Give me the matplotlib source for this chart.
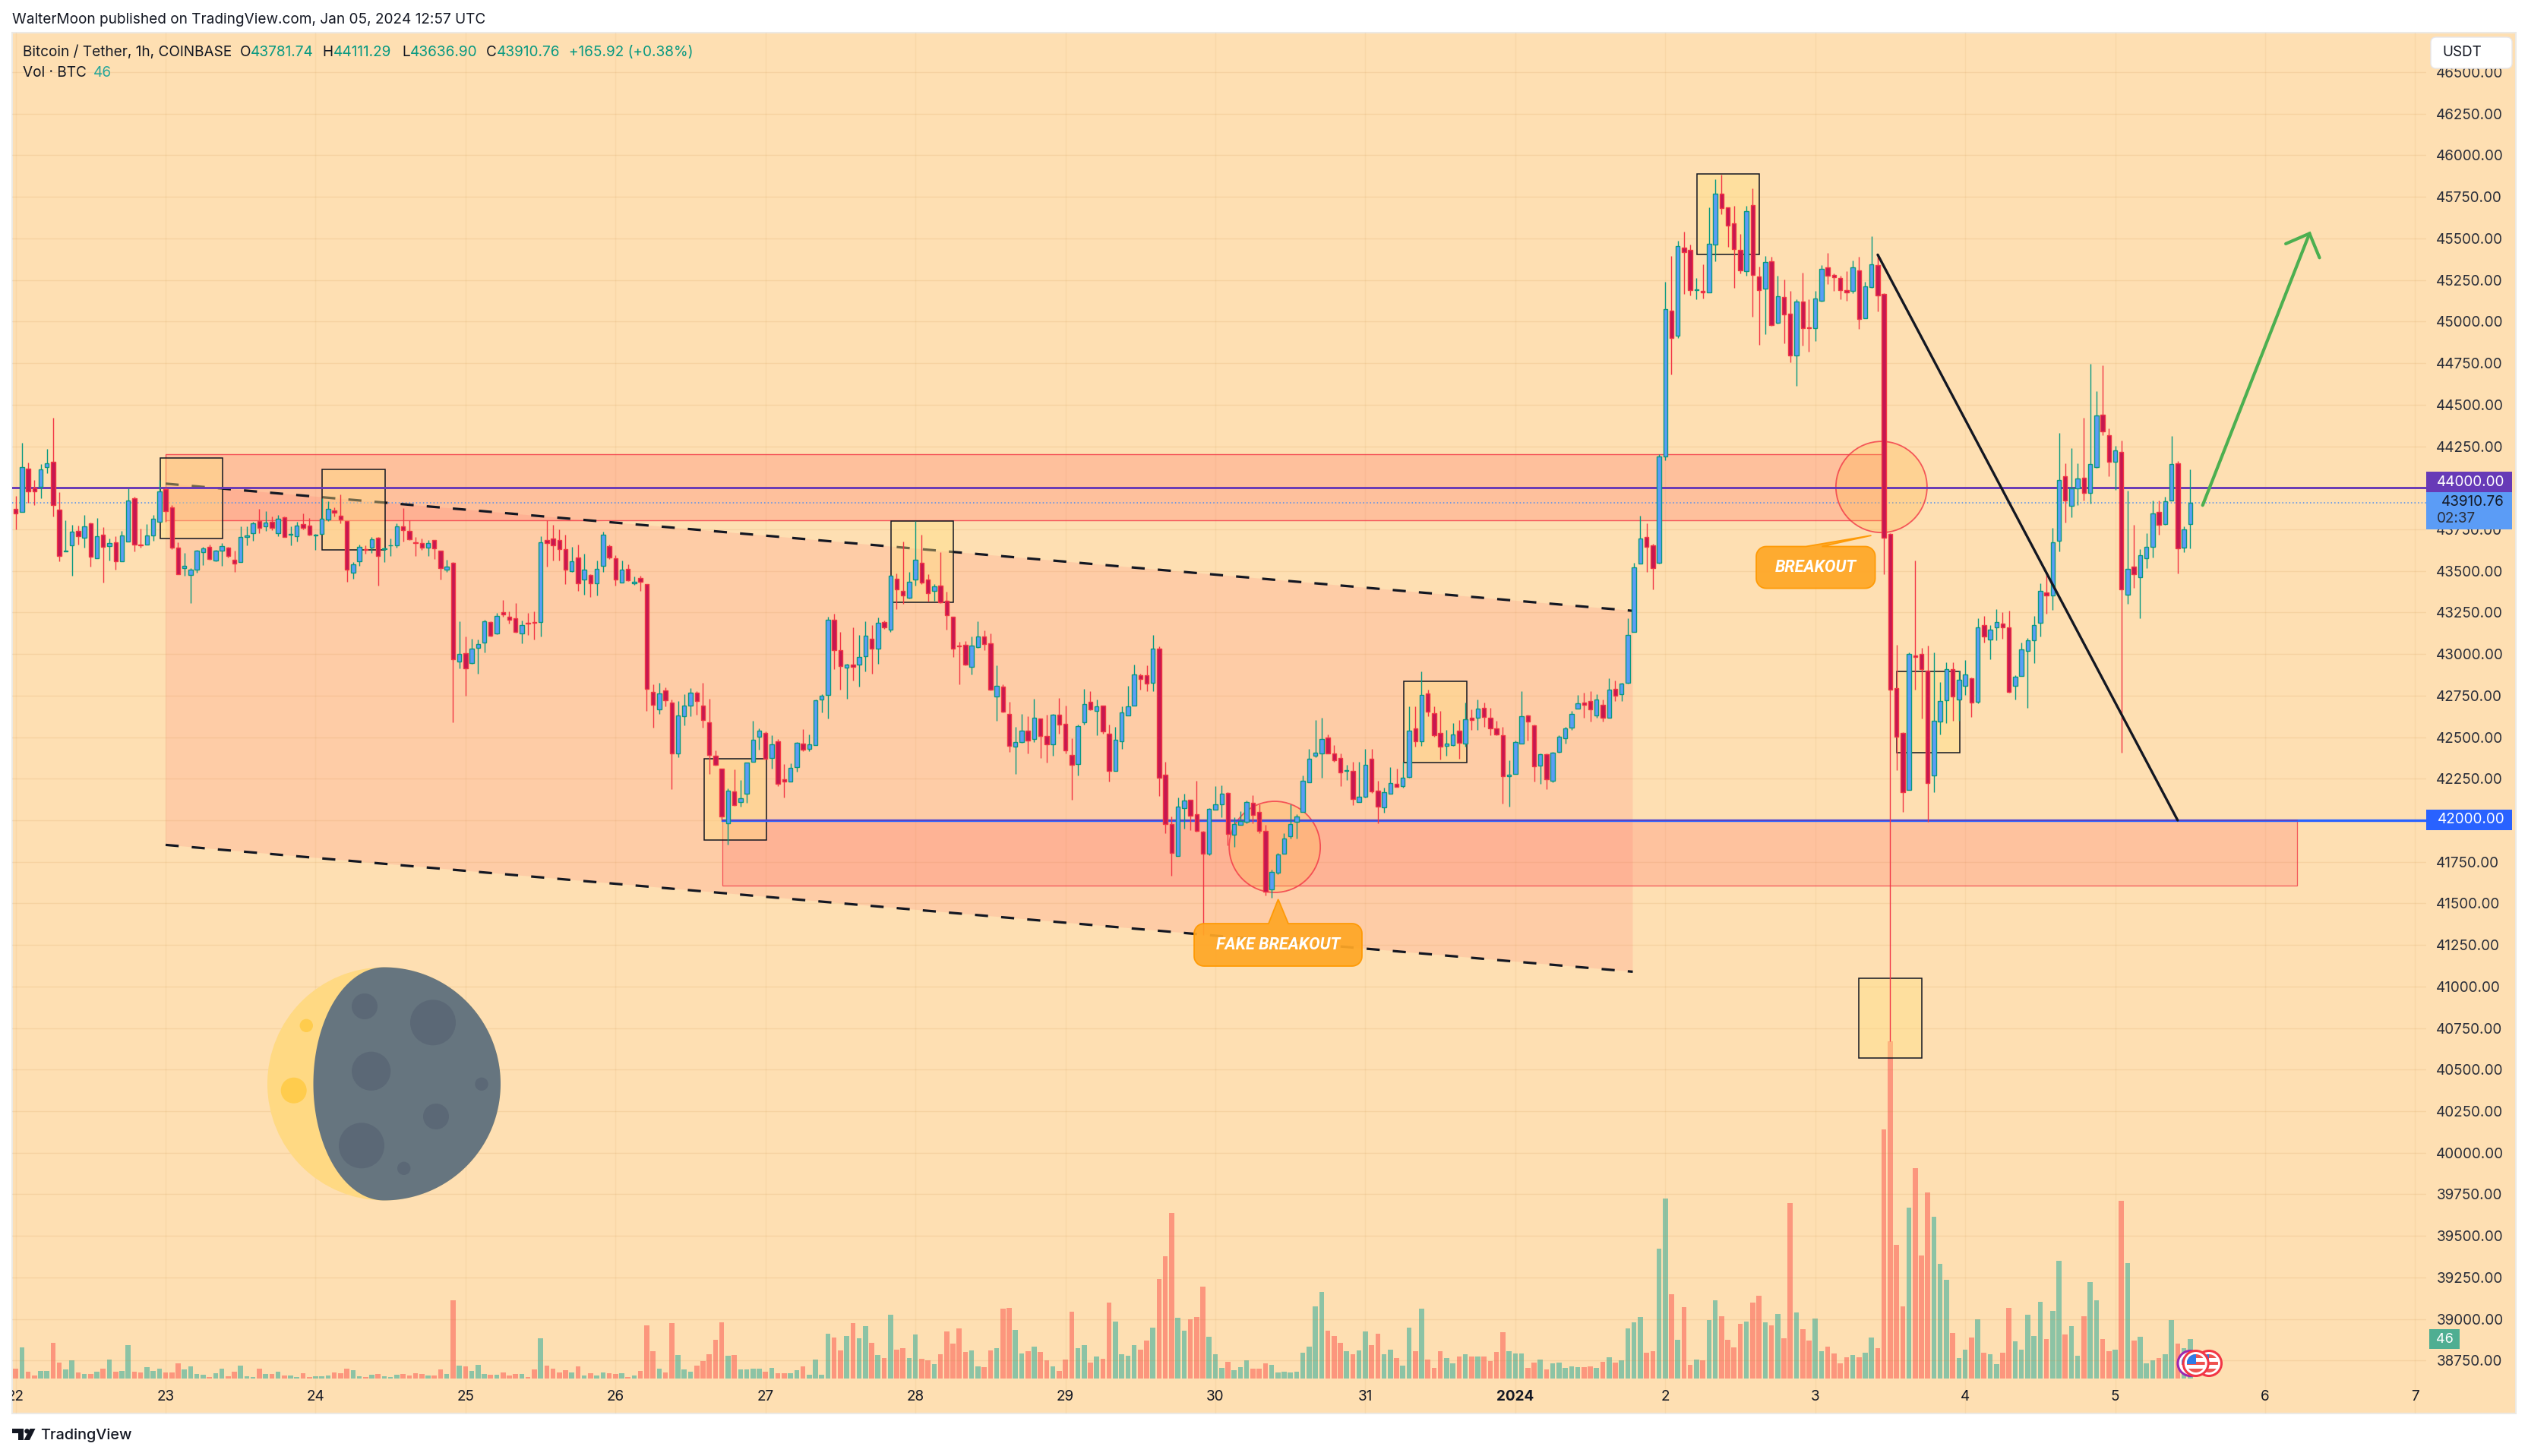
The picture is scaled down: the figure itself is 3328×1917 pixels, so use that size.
import numpy as np
import matplotlib
matplotlib.use("Agg")
import matplotlib.pyplot as plt
from matplotlib.patches import Rectangle, Ellipse, Circle, Polygon, FancyBboxPatch

# ---------- data: 1h candles, index 0 = 22 Dec 00:00 ----------
open_ = [
43872,43853,44116,44000,44004,44124,44157,43870,43619,43652,
43741,43700,43788,43576,43719,43649,43674,43558,43678,43939,
43658,43660,43715,43796,43992,43884,43641,43517,43474,43509,
43613,43647,43564,43623,43641,43568,43554,43704,43729,43800,
43770,43796,43727,43825,43717,43707,43780,43774,43715,43723,
43810,43865,43833,43800,43491,43558,43633,43639,43700,43629,
43654,43656,43770,43741,43674,43668,43641,43686,43623,43509,
43550,42957,43007,42944,43038,43067,43191,43126,43250,43226,
43217,43126,43187,43191,43193,43686,43696,43686,43631,43499,
43582,43450,43478,43425,43531,43649,43578,43431,43513,43425,
43456,43421,42773,42669,42783,42710,42404,42628,42692,42769,
42692,42588,42390,42312,41980,42172,42111,42158,42353,42504,
42527,42376,42474,42247,42235,42321,42463,42431,42453,42728,
42755,43205,43025,42917,42937,42935,42986,43094,43031,43194,
43145,43453,43380,43339,43449,43549,43449,43380,43412,43321,
43225,43053,43055,42925,43041,43104,43066,42745,42805,42639,
42443,42472,42541,42488,42611,42507,42458,42635,42578,42392,
42337,42590,42715,42656,42690,42521,42295,42476,42631,42692,
42874,42874,42829,43033,42274,41978,41785,42074,42123,42038,
41931,41797,42066,42095,42164,41911,41972,41989,42107,42050,
41935,41585,41685,41799,41903,41991,42050,42229,42390,42403,
42499,42403,42374,42299,42297,42109,42142,42370,42176,42078,
42162,42221,42205,42260,42552,42476,42764,42645,42525,42446,
42452,42539,42462,42619,42617,42674,42619,42554,42513,42266,
42278,42462,42631,42572,42329,42399,42237,42411,42492,42558,
42672,42707,42717,42631,42694,42617,42792,42758,42825,43133,
43545,43706,43655,43548,44189,45067,44917,45445,45430,45188,
45185,45177,45461,45771,45685,45593,45432,45301,45703,45272,
45196,45364,44991,45148,45049,44794,45122,44964,44962,45127,
45327,45282,45264,45190,45183,45309,45022,45209,45338,45164,
43724,42794,42526,42184,42993,42999,42901,42268,42594,42723,
42907,42728,42810,42854,42715,43172,43088,43162,43185,43162,
42810,42870,43017,43085,43188,43372,43351,43682,44068,43892,
43997,44060,43971,44126,44439,44315,44155,44218,43359,43527,
43464,43574,43643,43853,43782,43924,44147,43640,43781.74]

high = [
43949,44269,44153,44045,44143,44234,44422,43974,43806,43776,
43772,43837,43792,43817,43762,43694,43711,43741,43996,43945,
43755,43782,43837,44047,44000,43898,43674,43609,43515,43627,
43643,43660,43627,43668,43643,43623,43766,43766,43796,43872,
43861,43827,43837,43827,43766,43796,43847,43817,43723,43935,
43918,43882,43959,43800,43552,43658,43654,43704,43702,43643,
43694,43788,43878,43806,43704,43694,43684,43688,43623,43568,
43552,43195,43107,43093,43087,43205,43195,43246,43323,43256,
43307,43201,43246,43256,43707,43806,43776,43751,43719,43643,
43658,43603,43480,43562,43735,43658,43596,43562,43541,43466,
43470,43423,42818,42828,42798,42726,42716,42757,42794,42777,
42828,42730,42421,42312,42190,42308,42241,42349,42598,42553,
42533,42512,42488,42339,42343,42472,42547,42516,42726,42757,
43226,43242,43135,42941,43162,43115,43196,43176,43221,43200,
43472,43486,43676,43492,43798,43716,43482,43421,43614,43374,
43225,43074,43078,43104,43196,43141,43125,42931,42819,42711,
42564,42641,42625,42733,42611,42635,42639,42737,42690,42492,
42574,42792,42778,42727,42692,42574,42564,42686,42809,42935,
42880,42931,43115,43047,42350,42023,42135,42162,42125,42237,
41935,42074,42207,42211,42170,42017,42054,42119,42152,42095,
41972,41703,41803,41921,42095,42038,42268,42431,42605,42615,
42517,42452,42401,42335,42350,42350,42431,42431,42237,42197,
42319,42309,42350,42686,42686,42894,42788,42686,42656,42543,
42584,42605,42707,42666,42727,42707,42676,42599,42564,42360,
42482,42778,42635,42574,42401,42401,42411,42513,42564,42656,
42754,42768,42778,42758,42727,42854,42839,42829,43217,43547,
43833,43788,43661,44200,45238,45395,45487,45540,45461,45264,
45343,45685,45855,45882,45685,45698,45527,45698,45803,45330,
45395,45390,45277,45251,45185,45133,45296,45133,45185,45338,
45414,45290,45277,45303,45369,45388,45238,45514,45409,45169,
43727,43057,42531,43012,43561,43036,43051,43012,42833,42951,
42951,42899,42965,42859,43214,43227,43175,43272,43254,43262,
42873,43070,43096,43227,43424,43490,43761,44331,44147,44239,
44147,44423,44746,44581,44738,44357,44252,44286,43984,43779,
43629,43727,43924,43924,43945,44310,44160,43766,44111.29]

low = [
43749,43853,43908,43898,43935,44090,43827,43556,43617,43470,
43658,43639,43525,43576,43429,43562,43507,43556,43678,43617,
43639,43660,43680,43796,43796,43629,43480,43470,43307,43488,
43535,43566,43560,43531,43582,43495,43552,43654,43682,43729,
43739,43745,43711,43702,43654,43678,43751,43715,43627,43723,
43800,43827,43786,43433,43454,43531,43603,43609,43411,43552,
43588,43639,43678,43684,43588,43627,43588,43572,43450,43495,
42590,42916,42749,42940,42883,43012,43107,43118,43226,43185,
43128,43063,43113,43087,43107,43527,43562,43562,43423,43495,
43378,43358,43344,43354,43495,43572,43413,43429,43440,43415,
43378,42659,42559,42641,42686,42186,42380,42573,42624,42635,
42559,42278,42329,42003,41854,42088,42080,42105,42353,42425,
42366,42312,42207,42137,42233,42292,42414,42414,42451,42649,
42614,42910,42788,42731,42839,42802,42896,42880,42943,43151,
43135,43268,43304,43335,43410,43421,43315,43319,43308,43145,
42982,42819,42931,42878,43039,43023,42782,42599,42650,42411,
42278,42466,42401,42472,42376,42346,42390,42523,42401,42123,
42268,42574,42662,42513,42523,42233,42295,42431,42629,42690,
42788,42778,42778,42146,41921,41666,41785,41952,41942,41931,
41309,41789,42062,42017,41850,41840,41972,41982,41982,41921,
41550,41532,41674,41799,41891,41891,42050,42227,42380,42258,
42401,42350,42207,42242,42090,42109,42135,42166,41982,42044,
42162,42201,42197,42258,42441,42446,42625,42503,42366,42390,
42446,42370,42441,42543,42543,42564,42513,42513,42101,42084,
42278,42462,42482,42231,42221,42186,42227,42405,42462,42543,
42670,42615,42594,42615,42594,42615,42717,42717,42821,43131,
43543,43492,43390,43543,44166,44681,44901,45164,45159,45133,
45138,45177,45361,45645,45448,45201,45290,45277,45028,44862,
44922,44975,44988,44870,44757,44615,44857,44817,44883,45120,
45225,45185,45133,45125,45172,44957,45020,45204,45059,43482,
40670,42300,42050,42181,42788,42610,41992,42171,42518,42584,
42597,42597,42754,42623,42702,43070,42970,43083,43091,42767,
42728,42867,42675,42944,43104,43241,43267,43616,43792,43824,
43898,43924,43903,44121,44318,44068,43989,42407,43304,43398,
43214,43516,43582,43719,43779,43924,43485,43614,43636.90]

close = [
43847,44124,43978,43978,44112,44149,43896,43590,43623,43737,
43709,43770,43586,43711,43645,43668,43558,43715,43925,43660,
43654,43715,43815,43980,43859,43641,43480,43531,43509,43623,
43637,43572,43623,43649,43590,43546,43704,43715,43788,43760,
43792,43760,43815,43704,43721,43774,43760,43719,43719,43815,
43874,43851,43808,43509,43541,43645,43627,43692,43590,43637,
43656,43770,43745,43690,43668,43641,43668,43635,43517,43527,
42969,43001,42916,43034,43058,43199,43111,43230,43240,43207,
43134,43175,43183,43187,43674,43666,43654,43631,43509,43558,
43425,43507,43425,43513,43719,43582,43450,43509,43442,43435,
43435,42791,42696,42765,42720,42404,42632,42692,42769,42718,
42602,42394,42335,42021,42176,42092,42131,42345,42486,42537,
42368,42455,42221,42231,42317,42467,42423,42455,42724,42751,
43207,43022,42927,42935,42923,42982,43111,43033,43188,43162,
43472,43390,43351,43435,43568,43431,43364,43408,43312,43233,
43031,43047,42937,43051,43106,43060,42786,42807,42654,42448,
42470,42537,42480,42617,42507,42458,42635,42576,42421,42333,
42568,42701,42668,42686,42535,42295,42484,42650,42686,42878,
42849,42823,43033,42254,41978,41803,42082,42119,42029,41935,
41797,42068,42097,42162,41917,41976,41997,42111,42033,41935,
41570,41689,41795,41891,41978,42023,42237,42370,42407,42488,
42403,42360,42288,42303,42127,42142,42333,42172,42082,42170,
42225,42203,42258,42539,42476,42754,42652,42511,42443,42462,
42517,42466,42609,42601,42672,42621,42554,42517,42264,42272,
42472,42627,42594,42325,42397,42248,42407,42503,42552,42639,
42705,42696,42666,42727,42619,42786,42749,42823,43115,43523,
43696,43645,43517,44187,45077,44901,45456,45416,45190,45193,
45177,45469,45771,45682,45579,45438,45309,45666,45282,45190,
45359,44980,45154,45043,44794,45122,44962,44959,45141,45319,
45277,45267,45190,45177,45327,45017,45214,45346,45159,43700,
42788,42502,42168,43001,42983,42907,42223,42599,42718,42909,
42746,42846,42878,42710,43162,43106,43149,43191,43162,42770,
42865,43030,43083,43175,43380,43351,43674,44045,43924,43995,
44055,43971,44142,44434,44339,44158,44223,43390,43511,43482,
43593,43643,43845,43777,43921,44142,43635,43748,43910.76]

volume = [
11.5,36.3,8,3.5,8.8,8.8,41.6,18.6,10.6,21.2,7,5.3,5.3,8,11.5,22,8,8.8,39,8,
7,13,8.8,11.5,7,7,17.7,10.6,14,5.3,4.4,1.8,6,11.5,2.6,8,15,2.6,1.8,11.5,
5.3,5.3,8,3.5,3.5,1.8,6,1.8,2.6,2.6,3.5,7,6,11.5,9.7,2.6,1.8,4.4,5.3,2.6,
1.8,4.4,5.3,3.5,6,5.3,3.5,3.5,10.6,5.3,91,15,14,8.8,16,5.3,4.4,4.4,7,3.5,
5.3,5.3,1.8,10.6,47,15,11.5,7,9.7,7,14,3.5,6,3.5,7,6,5.3,6,1.8,3.5,
8.8,62,32,11.5,7,65,27,10.6,8,15,20,28,45,65.5,26.5,27,10.6,10.6,11.5,11.5,
8,12.4,6,6,6,9.7,14,4.4,22,4.4,52,48,33,50,65,47,61,41.6,27,24,
74,34,35,24,51,23,21,17,28,55,41,58,31,33,14,13,33,35,81,82,
57,29,32,37,31,21,14,8.8,22,78,35,39,18.6,26,23,88.5,66,28,26.5,39,
33.6,44,59,116,142.5,193,71,56,69,72,107,49,28,12.4,19.5,9.7,13,21,11.5,11.5,
17.7,16,7,8,7,8,30,37,84,101,56,50,41.6,32,28,33,55,39,52,28,
33.6,24,15,59,32,81,22,12.4,32,24,17.7,26,28,26,26,26,20,31,54,32,
29,29,12.4,18.6,22,10.6,17.7,18.6,12.4,14,13,13,14,12.4,19.5,25,18.6,21,58,65.5,
72,30,32,151,210,98,45,83,16,22,21,68,91,72.5,45,36,64,66,88.5,96.5,
65.5,62,75,47,204,77,57.5,44,70,32,37,29,17.7,25,27,25,30,48,35,290,
393,156,84,199,245,143,217,188.5,134,115,53,24,33.6,48,69,30,28,17,30,82,
43,33.6,74,50,89,46,79,137,51,61,26.5,72.5,112,91,46,32,33.6,207,134.5,44,
49,17.7,21,24,28,68,41,35,46]

hours = np.arange(len(close))
price_ticks = np.arange(38750, 46501, 250)
day_labels = ["22","23","24","25","26","27","28","29","30","31","2024","2","3","4","5","6","7"]
day_hours = np.arange(len(day_labels)) * 24

# ---------- palette ----------
BG = "#FEDFB2"; UP = "#5B9CF6"; UPE = "#089981"; DN = "#C61750"; DNE = "#F23645"
VUP = "#8CC3A5"; VDN = "#FC967D"; TXT = "#131722"; ZONE = "#FF5252"; PURPLE = "#673AB7"

W, H = 3328, 1917
fig = plt.figure(figsize=(W/100, H/100), dpi=100, facecolor="white")
plt.rcParams["font.family"] = "Inter"
L_, R_, T_, B_ = 16, 3194, 43, 1861
rect = [L_/W, 1-B_/H, (R_-L_)/W, (B_-T_)/H]

k = 0.21888           # px per price unit
yhi = 46000 + (204.5-T_)/k
ylo = 42000 - (B_-1080)/k
pxh = 8.226           # px per hour
xlo = (L_-20.6)/pxh
xhi = (R_-20.6)/pxh

fig.add_artist(Rectangle((L_/W, 1-B_/H), (3312-L_)/W, (B_-T_)/H, transform=fig.transFigure,
                         facecolor=BG, edgecolor="#ECE9E4", lw=1.5, zorder=0))

# ---------- volume ----------
vax = fig.add_axes(rect, zorder=1); vax.patch.set_alpha(0); vax.axis("off")
vax.set_xlim(xlo, xhi)
vpx = 1.13
vax.set_ylim(-(B_-1815)/vpx, (1815-T_)/vpx)
vcol = [VUP if c >= o else VDN for o, c in zip(open_, close)]
vax.bar(hours, volume, width=0.8, color=vcol, linewidth=0)

# ---------- price axes ----------
ax = fig.add_axes(rect, zorder=2); ax.patch.set_alpha(0)
ax.set_xlim(xlo, xhi); ax.set_ylim(ylo, yhi)
for s in ax.spines.values():
    s.set_visible(False)
ax.yaxis.tick_right()
ax.set_yticks(price_ticks)
# the 44000 and 42000 levels are read from their coloured price tags
ax.set_yticklabels(["" if p in (44000, 42000) else f"{p:.2f}" for p in price_ticks],
                   fontsize=13.6, color="#2A2E39")
ax.tick_params(axis="y", length=0, pad=9.6)
ax.set_xticks(day_hours)
ax.set_xticklabels(day_labels, fontsize=13.6, color=TXT)
ax.tick_params(axis="x", length=0, pad=-22, direction="in")
for lab in ax.get_xticklabels():
    lab.set_clip_box(ax.bbox); lab.set_clip_on(True)
    if lab.get_text() == "2024":
        lab.set_fontweight("bold")
ax.grid(True, axis="y", color="#C9893A", alpha=0.14, lw=1.0, zorder=0)
ax.grid(True, axis="x", color="#C9893A", alpha=0.09, lw=1.0, zorder=0)
ax.set_axisbelow(True)

# channel and zones
ax.add_patch(Polygon([(24, 44025), (258.8, 43260), (258.8, 41089), (24, 41852)],
                     closed=True, fc="#FF786E", alpha=0.175, lw=0, zorder=1))
ax.add_patch(Rectangle((24, 43806), 299.1-24, 44200-43806, fc=ZONE, alpha=0.22, lw=0, zorder=1.1))
ax.add_patch(Rectangle((24, 43806), 299.1-24, 44200-43806, fill=False, ec="#F23645", alpha=0.8, lw=1.0, zorder=1.2))
ax.add_patch(Rectangle((113.1, 41607), 365.1-113.1, 42000-41607, fc=ZONE, alpha=0.20, lw=0, zorder=1.1))
ax.add_patch(Rectangle((113.1, 41607), 365.1-113.1, 42000-41607, fill=False, ec="#F23645", alpha=0.8, lw=0.9, zorder=1.2))

dash = (0, (5.4, 5.4))
ax.plot([24, 258.8], [44025, 43260], color="#131722", lw=2.3, ls=dash, zorder=1.5)
ax.plot([24, 258.8], [41852, 41089], color="#131722", lw=2.3, ls=dash, zorder=1.5)

# yellow boxes
boxes = [(23.1, 33.07, 43697, 44178), (49.1, 59.1, 43625, 44110), (110.2, 120.1, 41883, 42370),
         (140.1, 150.05, 43311, 43799), (222.1, 232.2, 42347, 42837), (269.1, 279.0, 45402, 45890),
         (301.0, 311.1, 42406, 42897), (295.0, 305.1, 40568, 41052)]
for x0, x1, y0, y1 in boxes:
    ax.add_patch(Rectangle((x0, y0), x1-x0, y1-y0, fc="#FFE082", alpha=0.40, lw=0, zorder=2))
    ax.add_patch(Rectangle((x0, y0), x1-x0, y1-y0, fill=False, ec="#131722", lw=1.1, zorder=2.1))

# circles
for cx, cy in [(201.5, 41840), (298.6, 44005)]:
    w_, h_ = 120/pxh, 120/k
    ax.add_patch(Ellipse((cx, cy), w_, h_, fc="#FFB74D", alpha=0.30, lw=0, zorder=2.2))
    ax.add_patch(Ellipse((cx, cy), w_, h_, fill=False, ec="#F23645", alpha=0.8, lw=1.3, zorder=2.3))

# horizontals
ax.axhline(close[-1], color="#4C8EF0", lw=1.1, ls=(0, (1, 2)), zorder=1.3)
ax.axhline(44000, color=PURPLE, lw=2.1, zorder=2.6)
ax.plot([113.1, xhi], [42000, 42000], color="#2962FF", lw=2.4, zorder=2.5)
ax.plot([113.1, 365.1], [42000, 42000], color=PURPLE, lw=1.1, zorder=2.6)

# candles
o_, h_a, l_a, c_ = map(np.asarray, (open_, high, low, close))
up = c_ >= o_
ax.vlines(hours[up], l_a[up], h_a[up], color=UPE, lw=1.0, zorder=3)
ax.vlines(hours[~up], l_a[~up], h_a[~up], color=DNE, lw=1.0, zorder=3)
ax.bar(hours[up], (c_-o_)[up], bottom=o_[up], width=0.66, color=UP, edgecolor=UPE, lw=1.0, zorder=3.1)
ax.bar(hours[~up], (c_-o_)[~up], bottom=o_[~up], width=0.66, color=DN, edgecolor=DNE, lw=1.0, zorder=3.1)

# trend line and arrow
ax.plot([298.0, 346.0], [45402, 42000], color="#131722", lw=2.4, zorder=5, solid_capstyle="round")
ax.plot([350.0, 367.1], [43895, 45530], color="#4CAF50", lw=3.0, zorder=5, solid_capstyle="round")
ax.plot([363.3, 367.1, 368.7], [45468, 45530, 45384], color="#4CAF50", lw=3.0, zorder=5,
        solid_capstyle="round", solid_joinstyle="miter")

# ---------- overlay in figure pixels: furniture ----------
ov = fig.add_axes([0, 0, 1, 1], zorder=3); ov.patch.set_alpha(0); ov.axis("off")
ov.set_xlim(0, W); ov.set_ylim(H, 0)

def t(x, y, s, size=13.7, color=TXT, ha="left", va="center", **kw):
    return ov.text(x, y, s, fontsize=size, color=color, ha=ha, va=va, **kw)

t(16, 26, "WalterMoon published on TradingView.com, Jan 05, 2024 12:57 UTC")
GRN = "#089981"
t(30, 69, "Bitcoin / Tether, 1h, COINBASE")
for xl, lb, xv, val in [(316, "O", 330, "43781.74"), (424, "H", 439, "44111.29"),
                        (529, "L", 539.5, "43636.90"), (640, "C", 654, "43910.76")]:
    t(xl, 69, lb)
    t(xv, 69, val, color=GRN)
t(749, 69, "+165.92 (+0.38%)", color=GRN)
t(30, 96, "Vol · BTC")
t(122.5, 96, "46", color="#26A69A")

# USDT button
ov.add_patch(FancyBboxPatch((3206, 55), 95, 29, boxstyle="round,pad=6,rounding_size=7",
                            fc="white", ec="#E6E6EA", lw=1.0, zorder=6))
t(3215, 69, "USDT", size=13.6, zorder=7)

# price tags
def tag(y0, y1, fc, x1=3307):
    ov.add_patch(Rectangle((3194, y0), x1-3194, y1-y0, fc=fc, lw=0, zorder=6))
tag(621, 648, PURPLE)
t(3297, 634.5, "44000.00", size=13.6, color="white", ha="right", zorder=7)
tag(648, 697, UP)
t(3297, 661, "43910.76", size=13.6, color="#131722", ha="right", zorder=7)
t(3208, 683, "02:37", size=13.6, color="#2A2E39", zorder=7)
tag(1066, 1093, "#2962FF")
t(3297, 1079.5, "42000.00", size=13.6, color="white", ha="right", zorder=7)
ov.add_patch(Rectangle((3198, 1750), 40, 26, fc="#4FAE92", lw=0, zorder=6))
t(3218, 1763, "46", size=13.0, color="white", ha="center", zorder=7)

# callouts
def callout(x0, y0, x1, y1, r, tail):
    a = np.linspace(0, np.pi/2, 10)
    pts = []
    pts += [(x0+r-r*np.cos(u), y0+r-r*np.sin(u)) for u in a]
    pts += tail
    pts += [(x1-r+r*np.sin(u), y0+r-r*np.cos(u)) for u in a]
    pts += [(x1-r+r*np.cos(u), y1-r+r*np.sin(u)) for u in a]
    pts += [(x0+r-r*np.sin(u), y1-r+r*np.cos(u)) for u in a]
    ov.add_patch(Polygon(pts, closed=True, fc="#FFA726", ec="#FF9800", lw=1.3, alpha=0.93, zorder=4))

callout(1572, 1216, 1793, 1272, 13, [(1670, 1216), (1682.7, 1184), (1696, 1216)])
callout(2312, 719.5, 2468.6, 774.6, 13, [(2377.4, 719.5), (2463.5, 705), (2398.5, 719.5)])
t(1682.5, 1244, "FAKE BREAKOUT", size=15.6, color="white", ha="center", fontweight="bold",
  fontstyle="italic", family="Roboto", zorder=5)
t(2390, 747, "BREAKOUT", size=15.6, color="white", ha="center", fontweight="bold",
  fontstyle="italic", family="Roboto", zorder=5)

# moon emoji
MX, MY, MR = 505.5, 1427, 153.5
ov.add_patch(Circle((MX, MY), MR, fc="#FFD983", lw=0, zorder=3))
th = np.linspace(-np.pi/2, np.pi/2, 120)
right = [(MX+MR*np.cos(u), MY+MR*np.sin(u)) for u in th]
left = [(MX-93*np.cos(u), MY-MR*np.sin(u)) for u in th]
ov.add_patch(Polygon(right+left, closed=True, fc="#66757F", lw=0, zorder=3.1))
for cx, cy, r in [(386.7, 1435.7, 17), (403.3, 1350.3, 8.7)]:
    ov.add_patch(Circle((cx, cy), r, fc="#FFCC4D", lw=0, zorder=3.2))
for cx, cy, r in [(480, 1325, 17), (570, 1346.3, 30), (488.7, 1410.3, 25.6), (634, 1427.3, 8.7),
                  (574, 1470, 17), (476, 1508.3, 30), (531.7, 1538.3, 8.7)]:
    ov.add_patch(Circle((cx, cy), r, fc="#5B6876", lw=0, zorder=3.2))

# event flags
def flag(cx, cy, ring, z):
    ov.add_patch(Circle((cx, cy), 16.5, fc="white", ec=ring, lw=2.2, zorder=z))
    clip = Circle((cx, cy), 12, transform=ov.transData)
    s = 24/5
    for i in range(5):
        col = "#EF5350" if i % 2 == 0 else "white"
        p = Rectangle((cx-12, cy-12+i*s), 24, s, fc=col, lw=0, zorder=z+.1)
        ov.add_patch(p); p.set_clip_path(clip)
    p = Rectangle((cx-12, cy-12), 12, 13, fc="#2E7BE6", lw=0, zorder=z+.2)
    ov.add_patch(p); p.set_clip_path(clip)
flag(2908, 1795, "#F23645", 2.0)
flag(2883.5, 1795, "#9C27B0", 2.3)
flag(2890.7, 1795, "#F23645", 2.6)

# TradingView logo
ov.add_patch(Polygon([(16, 1881), (31, 1881), (31, 1896), (24, 1896), (24, 1887), (16, 1887)],
                     closed=True, fc="#131722", lw=0))
ov.add_patch(Circle((35.5, 1884.3), 3.2, fc="#131722", lw=0))
ov.add_patch(Polygon([(39.5, 1881), (46.5, 1881), (39, 1896), (31.5, 1896)], closed=True, fc="#131722", lw=0))
t(53, 1889.5, "TradingView", size=14.3, fontweight="medium")

fig.savefig("out.png", dpi=100, facecolor="white")
